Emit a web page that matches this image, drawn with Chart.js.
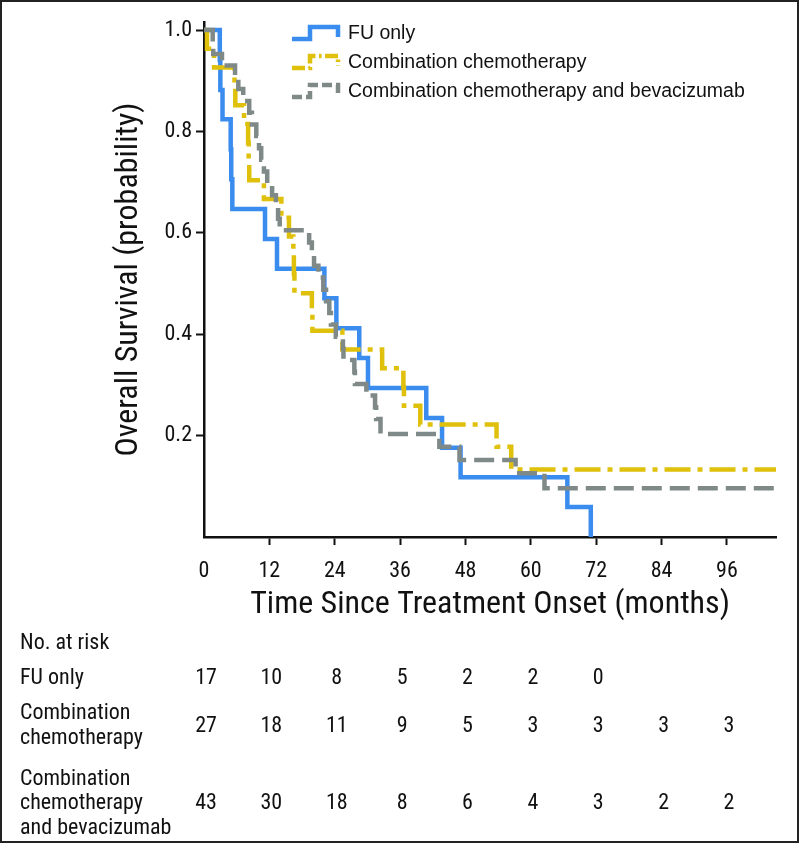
<!DOCTYPE html>
<html>
<head>
<meta charset="utf-8">
<script src="https://cdn.jsdelivr.net/npm/chart.js"></script>
<style>
  html, body { margin: 0; padding: 0; background: #fff; }
  #wrap { position: relative; width: 799px; height: 843px; }
</style>
</head>
<body>
<div id="wrap"><canvas id="km" width="799" height="843"></canvas></div>
<script>
// Kaplan-Meier curves (months, survival probability)
const fuTimes = [0, 2.9, 3.0, 3.4, 4.9, 5.0, 5.2, 11.2, 13.4, 22.1, 24.3, 28.5, 30.1, 40.8, 43.7, 47.1, 66.7, 71.0];
const fuSurv  = [1, 0.941, 0.882, 0.824, 0.765, 0.706, 0.647, 0.588, 0.529, 0.471, 0.412, 0.353, 0.294, 0.235, 0.176, 0.118, 0.059, 0];

const chemoTimes = [0, 0.55, 1.85, 5.6, 5.75, 7.35, 8.1, 8.2, 8.3, 11.0, 14.2, 15.6, 16.4, 16.5, 16.6, 19.8, 19.9, 25.4, 32.7, 36.6, 36.7, 39.7, 53.7, 56.4, 105];
const chemoSurv  = [1, 0.963, 0.926, 0.889, 0.852, 0.815, 0.778, 0.741, 0.704, 0.667, 0.630, 0.593, 0.556, 0.519, 0.481, 0.444, 0.407, 0.370, 0.333, 0.296, 0.259, 0.222, 0.178, 0.133, 0.133];

const bevTimes = [0, 1.6, 1.7, 3.3, 5.7, 6.3, 7.2, 8.3, 8.8, 9.6, 10.1, 10.5, 11.0, 11.6, 12.5, 13.2, 13.6, 13.9, 19.3, 19.8, 20.2, 21.0, 21.9, 22.4, 23.0, 23.3, 24.2, 25.5, 25.6, 27.6, 27.7, 29.8, 31.4, 31.6, 32.4, 43.2, 46.9, 57.2, 62.5, 105];
const bevSurv  = [1, 0.977, 0.953, 0.930, 0.907, 0.884, 0.860, 0.837, 0.814, 0.791, 0.767, 0.744, 0.721, 0.698, 0.674, 0.651, 0.628, 0.605, 0.581, 0.558, 0.535, 0.512, 0.488, 0.465, 0.442, 0.419, 0.395, 0.372, 0.349, 0.326, 0.302, 0.279, 0.256, 0.233, 0.203, 0.178, 0.152, 0.126, 0.096, 0.096];

const seriesNames = ['FU only', 'Combination chemotherapy', 'Combination chemotherapy and bevacizumab'];

// tick labels
const xTicks = [0, 12, 24, 36, 48, 60, 72, 84, 96];
const yTicks = [0.2, 0.4, 0.6, 0.8, 1.0];

// number at risk table
const riskMonths = [0, 12, 24, 36, 48, 60, 72, 84, 96];
const riskFU    = [17, 10, 8, 5, 2, 2, 0];
const riskChemo = [27, 18, 11, 9, 5, 3, 3, 3, 3];
const riskBev   = [43, 30, 18, 8, 6, 4, 3, 2, 2];

const NARROW = "'Liberation Sans Narrow', 'Roboto Condensed', 'DejaVu Sans Condensed', sans-serif";
const REG = "'Liberation Sans', Arial, sans-serif";

function pts(ts, vs) { return ts.map((t, i) => ({ x: t, y: vs[i] })); }

const styles = [
  { color: '#3b8cef', dash: [] },
  { color: '#dfc00a', dash: [26, 7, 5, 7] },
  { color: '#7f8a88', dash: [20, 8] }
];

// legend with step icons + at-risk table + frame
const extras = {
  id: 'extras',
  afterDraw(chart) {
    const ctx = chart.ctx;
    const xs = chart.scales.x;
    ctx.save();

    // legend
    const rows = [33, 62, 91];
    seriesNames.forEach((name, i) => {
      const y = rows[i];
      ctx.beginPath();
      ctx.strokeStyle = styles[i].color;
      ctx.lineWidth = 4.5;
      ctx.setLineDash(styles[i].dash.map(d => d * 0.5));
      ctx.moveTo(292, y + 6);
      ctx.lineTo(310, y + 6);
      ctx.lineTo(310, y - 6);
      ctx.lineTo(338, y - 6);
      ctx.lineTo(338, y + 4);
      ctx.stroke();
      ctx.setLineDash([]);
      ctx.fillStyle = '#111';
      ctx.font = '19.5px ' + REG;
      ctx.textAlign = 'left';
      ctx.textBaseline = 'middle';
      ctx.fillText(name, 348, y + 1);
    });

    // number at risk
    ctx.fillStyle = '#111';
    ctx.font = '22px ' + NARROW;
    ctx.textAlign = 'left';
    ctx.textBaseline = 'middle';
    ctx.fillText('No. at risk', 20, 643);
    ctx.fillText('FU only', 20, 678);
    ctx.fillText('Combination', 20, 713);
    ctx.fillText('chemotherapy', 20, 738);
    ctx.fillText('Combination', 20, 779);
    ctx.fillText('chemotherapy', 20, 803);
    ctx.fillText('and bevacizumab', 20, 828);

    ctx.textAlign = 'center';
    const tableRows = [[riskFU, 678], [riskChemo, 726], [riskBev, 803]];
    tableRows.forEach(([vals, y]) => {
      vals.forEach((v, i) => {
        ctx.fillText(String(v), xs.getPixelForValue(riskMonths[i]) + 2, y);
      });
    });

    // frame
    ctx.strokeStyle = '#222';
    ctx.lineWidth = 2;
    ctx.strokeRect(1, 1, 797, 841);
    ctx.restore();
  }
};

new Chart(document.getElementById('km'), {
  type: 'line',
  data: {
    datasets: [
      { label: seriesNames[0], data: pts(fuTimes, fuSurv) },
      { label: seriesNames[1], data: pts(chemoTimes, chemoSurv) },
      { label: seriesNames[2], data: pts(bevTimes, bevSurv) }
    ].map((d, i) => Object.assign(d, {
      borderColor: styles[i].color,
      borderDash: styles[i].dash,
      borderWidth: 4.5,
      stepped: true,
      pointRadius: 0,
      fill: false,
      borderJoinStyle: 'miter',
      order: 3 - i
    }))
  },
  options: {
    responsive: false,
    animation: false,
    layout: { padding: { left: 110, right: 23, top: 22, bottom: 213 } },
    plugins: { legend: { display: false }, tooltip: { enabled: false } },
    scales: {
      x: {
        type: 'linear',
        min: 0,
        max: 105,
        afterBuildTicks: s => { s.ticks = xTicks.map(v => ({ value: v })); },
        afterFit: s => { s.height = 93; },
        grid: {
          drawOnChartArea: false,
          tickLength: 8,
          tickWidth: 2,
          tickColor: c => (c.tick && c.tick.value === 0) ? 'rgba(0,0,0,0)' : '#111'
        },
        border: { color: '#111', width: 2.5 },
        ticks: { color: '#111', font: { family: NARROW, size: 22 }, padding: 13, maxRotation: 0 },
        title: {
          display: true,
          text: 'Time Since Treatment Onset (months)',
          color: '#111',
          font: { family: NARROW, size: 32 },
          padding: { top: 0, bottom: 6 }
        }
      },
      y: {
        min: 0,
        max: 1.016,
        afterBuildTicks: s => { s.ticks = yTicks.map(v => ({ value: v })); },
        afterFit: s => { s.width = 94; },
        grid: { drawOnChartArea: false, tickLength: 8, tickWidth: 2, tickColor: '#111' },
        border: { color: '#111', width: 2.5 },
        ticks: { color: '#111', font: { family: NARROW, size: 22 }, padding: 4, callback: v => v.toFixed(1) },
        title: {
          display: true,
          text: 'Overall Survival (probability)',
          color: '#111',
          font: { family: NARROW, size: 32 },
          padding: { top: 0, bottom: 0 }
        }
      }
    }
  },
  plugins: [extras]
});
</script>
</body>
</html>
